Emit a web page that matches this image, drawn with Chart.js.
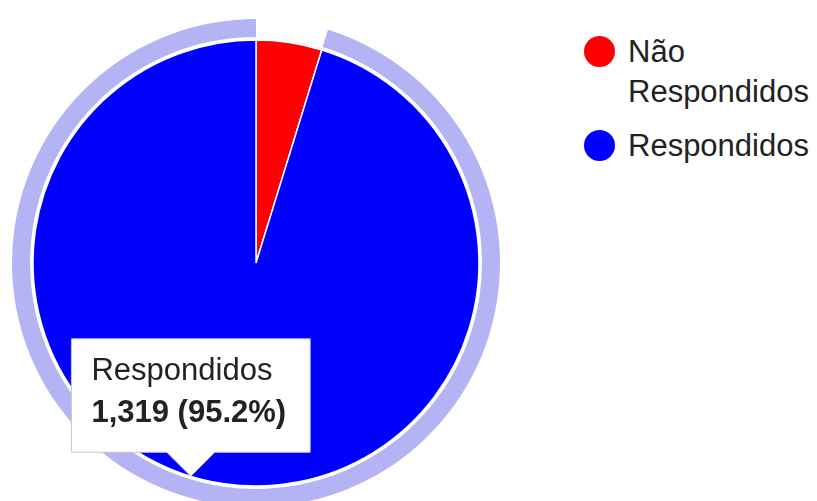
<!DOCTYPE html>
<html lang="pt">
<head>
<meta charset="utf-8">
<title>Respondidos</title>
<script src="https://cdn.jsdelivr.net/npm/chart.js@4.4.1/dist/chart.umd.min.js"></script>
<style>
  html, body { margin: 0; padding: 0; background: #fff; overflow: hidden; }
  body { width: 817px; height: 501px; position: relative; font-family: "Liberation Sans", Arial, sans-serif; }
  #pie-wrap { position: absolute; left: 0; top: 0; width: 512px; height: 526px; }
  #legend { position: absolute; left: 582px; top: 32px; width: 235px; color: #222; font-size: 31px; line-height: 40px; }
  .legend-item { position: relative; padding-left: 46px; margin-bottom: 14px; }
  .legend-dot { position: absolute; left: 2px; top: 4px; width: 31px; height: 31px; border-radius: 50%; }
</style>
</head>
<body>
<div id="pie-wrap"><canvas id="chart-pie" width="512" height="526"></canvas></div>
<div id="legend"></div>

<script>
// ============ Data ============
const labels = ['Não Respondidos', 'Respondidos'];
const counts = [66, 1319];
const sliceColors = ['#ff0000', '#0000ff'];
const ringColors = ['rgba(0,0,0,0)', '#b4b4f4'];

const total = counts.reduce((a, b) => a + b, 0);
const FONT = '"Liberation Sans", Arial, sans-serif';

// ============ Legend ============
function renderLegend() {
  const box = document.getElementById('legend');
  box.innerHTML = labels.map((l, i) => `
    <div class="legend-item">
      <span class="legend-dot" style="background:${sliceColors[i]}"></span>${l}
    </div>`).join('');
}

// tooltip callout points at the lower-left part of the highlighted slice
Chart.Tooltip.positioners.callout = function (items) {
  if (!items.length) return false;
  const el = items[0].element;
  const a = (197 - 90) * Math.PI / 180;
  return {
    x: el.x + el.outerRadius * Math.cos(a),
    y: el.y + el.outerRadius * Math.sin(a),
  };
};

// ============ Chart ============
function renderPie() {
  const ctx = document.getElementById('chart-pie').getContext('2d');
  const chart = new Chart(ctx, {
    type: 'pie',
    data: {
      labels,
      datasets: [
        {
          // highlight ring around the selected slice
          data: counts,
          backgroundColor: ringColors,
          hoverBackgroundColor: ringColors,
          borderWidth: 0,
          weight: 18,
        },
        {
          // thin white gap between ring and pie
          data: counts,
          backgroundColor: ['rgba(0,0,0,0)', 'rgba(0,0,0,0)'],
          hoverBackgroundColor: ['rgba(0,0,0,0)', 'rgba(0,0,0,0)'],
          borderWidth: 0,
          weight: 3,
        },
        {
          data: counts,
          backgroundColor: sliceColors,
          hoverBackgroundColor: sliceColors,
          borderColor: '#fff',
          hoverBorderColor: '#fff',
          borderWidth: 1.5,
          weight: 223,
        },
      ],
    },
    options: {
      responsive: false,
      animation: false,
      radius: 244,
      hoverOffset: 0,
      layout: { padding: 0 },
      events: [],
      plugins: {
        legend: { display: false },
        tooltip: {
          enabled: true,
          position: 'callout',
          xAlign: 'center',
          yAlign: 'bottom',
          filter: item => item.datasetIndex === 2,
          backgroundColor: '#fff',
          borderColor: '#c8c8c8',
          borderWidth: 1,
          cornerRadius: 0,
          caretSize: 24,
          caretPadding: 0,
          displayColors: false,
          titleColor: '#222',
          bodyColor: '#222',
          titleFont: { family: FONT, size: 31, weight: 'normal' },
          bodyFont: { family: FONT, size: 31, weight: 'bold' },
          titleMarginBottom: 5,
          padding: { top: 14, bottom: 20, left: 20, right: 24 },
          callbacks: {
            title: items => items[0].label,
            label: item => {
              const v = item.raw;
              const pct = (v / total * 100).toFixed(1);
              return `${v.toLocaleString('en-US')} (${pct}%)`;
            },
          },
        },
      },
    },
  });

  // show the "Respondidos" slice as selected
  const active = [{ datasetIndex: 2, index: 1 }];
  chart.setActiveElements(active);
  chart.tooltip.setActiveElements(active, { x: 0, y: 0 });
  chart.update();
}

document.addEventListener('DOMContentLoaded', () => {
  renderLegend();
  renderPie();
});
</script>
</body>
</html>
